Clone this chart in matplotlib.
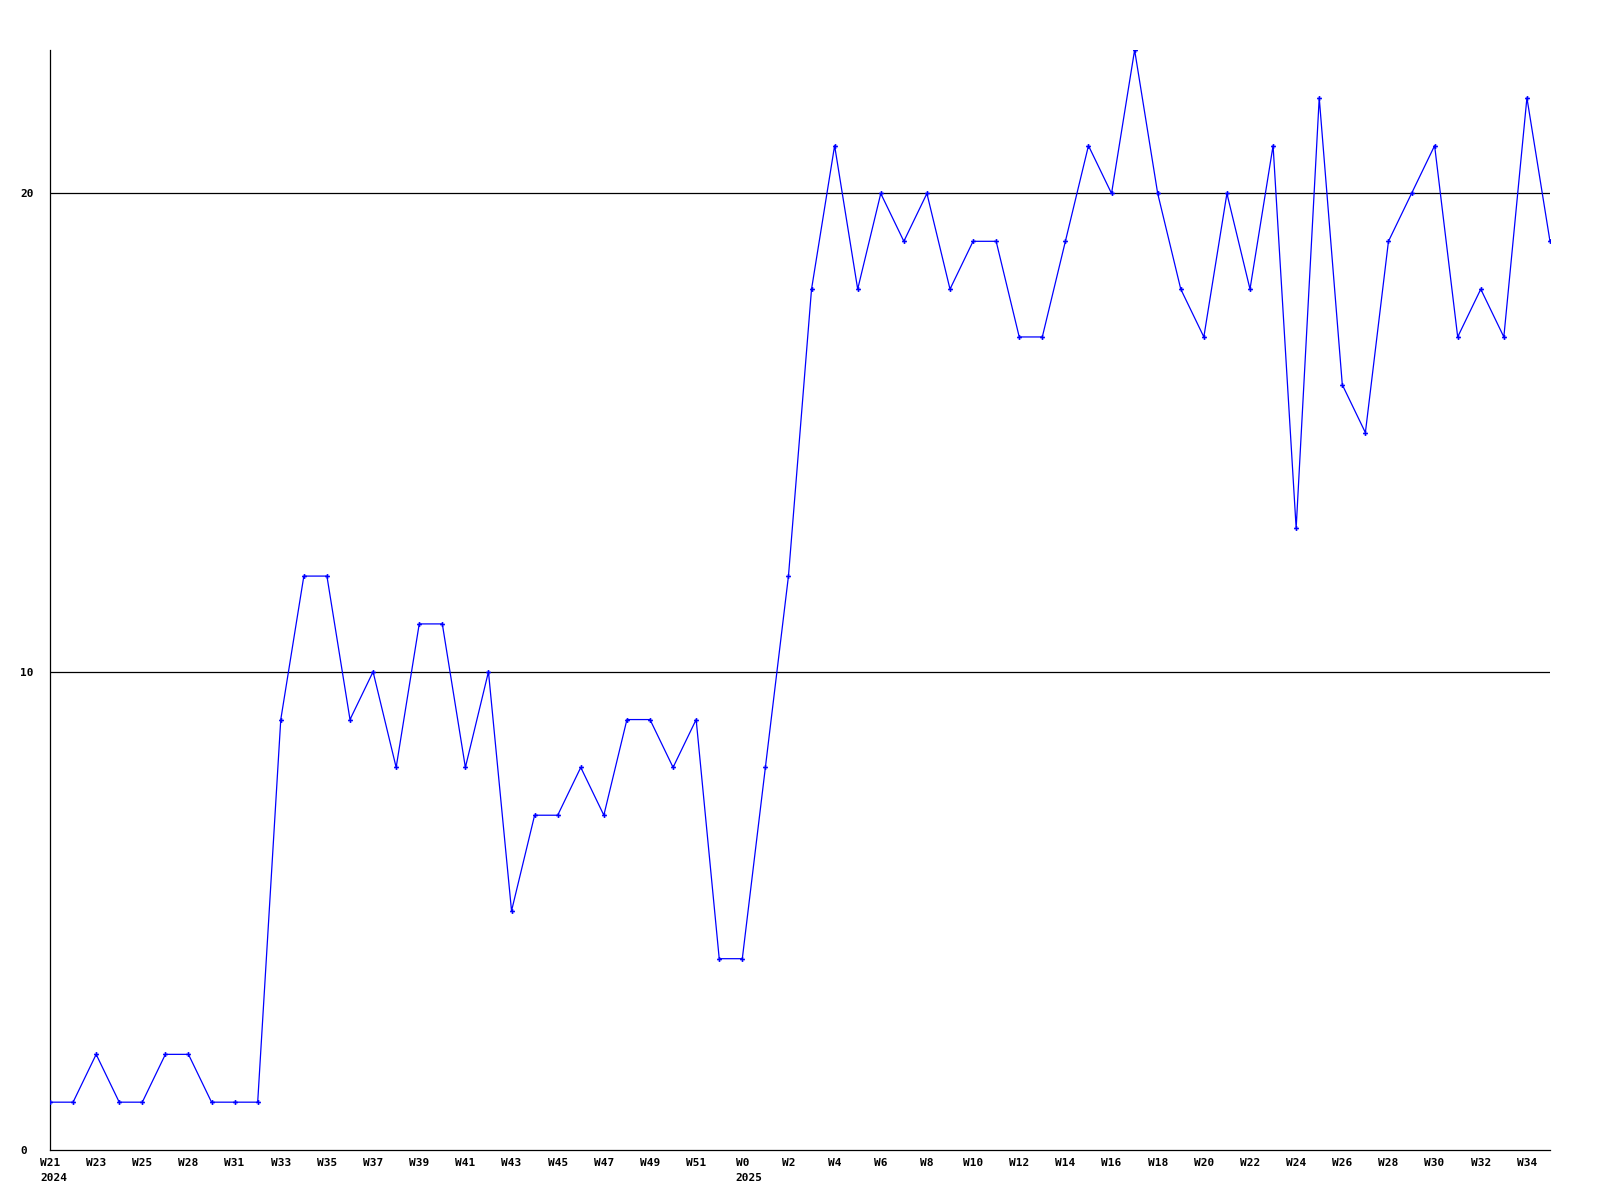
import matplotlib

matplotlib.use('Agg')
import matplotlib.pyplot as plt

# weekly counts, one point per week (2024 W21 .. 2025 W35)
values = [1, 1, 2, 1, 1, 2, 2, 1, 1, 1,
          9, 12, 12, 9, 10, 8, 11, 11, 8, 10,
          5, 7, 7, 8, 7, 9, 9, 8, 9, 4,
          4, 8, 12, 18, 21, 18, 20, 19, 20, 18,
          19, 19, 17, 17, 19, 21, 20, 23, 20, 18,
          17, 20, 18, 21, 13, 22, 16, 15, 19, 20,
          21, 17, 18, 17, 22, 19]

# labels shown on every other point
tick_pos = list(range(0, 65, 2))
tick_labels = ['W21', 'W23', 'W25', 'W28', 'W31', 'W33', 'W35', 'W37', 'W39',
               'W41', 'W43', 'W45', 'W47', 'W49', 'W51', 'W0', 'W2', 'W4', 'W6',
               'W8', 'W10', 'W12', 'W14', 'W16', 'W18', 'W20', 'W22', 'W24',
               'W26', 'W28', 'W30', 'W32', 'W34']
year_marks = {0: '2024', 30: '2025'}

y_ticks = [0, 10, 20]

FONT = 'DejaVu Sans Mono'
FS = 8

fig = plt.figure(figsize=(16, 12), dpi=100, facecolor='white')
ax = fig.add_axes([50 / 1600, 50 / 1200, 1500 / 1600, 1100 / 1200])

x = list(range(len(values)))
ax.plot(x, values, color='#0000ff', linewidth=0.9, marker='P',
        markersize=3.5, markeredgewidth=0, zorder=3)

for y in y_ticks[1:]:
    ax.axhline(y, color='black', linewidth=0.9, zorder=1)

ax.set_xlim(0, len(values) - 1)
ax.set_ylim(0, 23)

for side in ('top', 'right'):
    ax.spines[side].set_visible(False)
for side in ('left', 'bottom'):
    ax.spines[side].set_linewidth(0.9)
    ax.spines[side].set_color('black')

ax.set_yticks(y_ticks)
ax.set_yticklabels([str(v) for v in y_ticks], fontfamily=FONT,
                   fontsize=FS, fontweight='bold', ha='left')
ax.set_xticks(tick_pos)
ax.set_xticklabels(tick_labels, fontfamily=FONT, fontsize=FS,
                   fontweight='bold')
ax.tick_params(axis='y', length=0, pad=21.5)
ax.tick_params(axis='x', length=0, pad=6)

# year under the first label of each year, left edge aligned with the week label
for idx, year in year_marks.items():
    lab = tick_labels[tick_pos.index(idx)]
    half_w = len(lab) * 0.602 * FS / 2
    ax.annotate(year, xy=(idx, 0), xycoords='data',
                xytext=(-half_w, -16.5), textcoords='offset points',
                ha='left', va='top', fontfamily=FONT, fontsize=FS,
                fontweight='bold', annotation_clip=False)

fig.savefig('out.png', dpi=100, facecolor='white')
